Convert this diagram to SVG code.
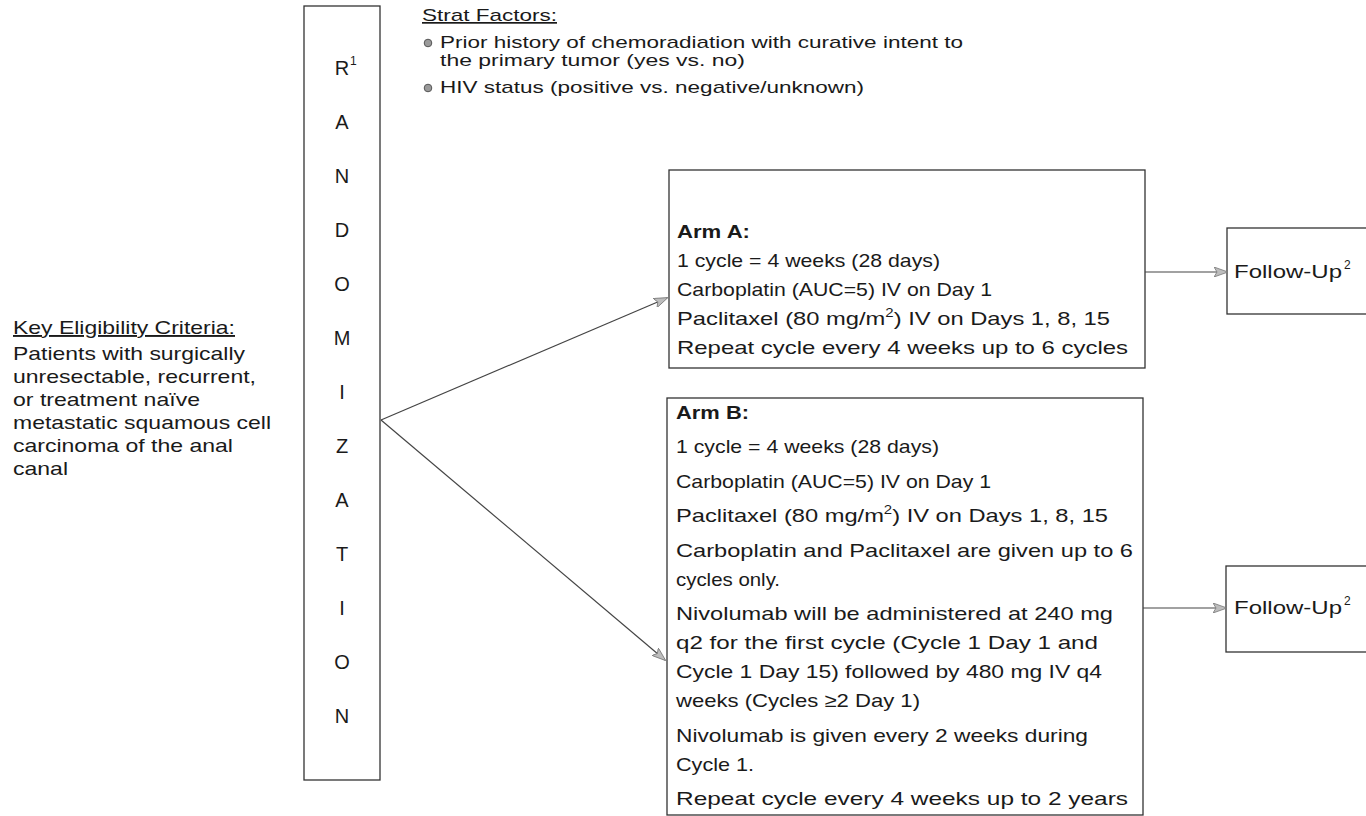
<svg xmlns="http://www.w3.org/2000/svg" width="1366" height="816" viewBox="0 0 1366 816">
<defs>
<style>
text{font-family:"Liberation Sans",Arial,sans-serif;fill:#1a1a1a}
.box{fill:none;stroke:#333;stroke-width:1.3}
.t{font-size:19px}
.b{font-size:19px;font-weight:bold}
.l{font-size:19px}
.s{font-size:17px}
.r{font-size:20px;text-anchor:middle}
.u{text-decoration:underline}
.sup{font-size:12px}
.con{stroke:#444;stroke-width:1.2;fill:none;marker-end:url(#ah)}
.dot{fill:#9a9a9a;stroke:#555;stroke-width:1}
</style>
<marker id="ah" viewBox="0 0 14 10" refX="13" refY="5" markerWidth="14" markerHeight="10" markerUnits="userSpaceOnUse" orient="auto">
<path d="M0,0 L14,5 L0,10 L3,5 Z" fill="#bdbdbd" stroke="#777" stroke-width="0.8"/>
</marker>
</defs>
<rect width="1366" height="816" fill="#fff"/>

<g id="eligibility">
<text class="l u" x="13" y="334" textLength="222" lengthAdjust="spacingAndGlyphs">Key Eligibility Criteria:</text>
<text class="l" x="13" y="360" textLength="232" lengthAdjust="spacingAndGlyphs">Patients with surgically</text>
<text class="l" x="13" y="383" textLength="243" lengthAdjust="spacingAndGlyphs">unresectable, recurrent,</text>
<text class="l" x="13" y="406" textLength="187" lengthAdjust="spacingAndGlyphs">or treatment naïve</text>
<text class="l" x="13" y="429" textLength="258" lengthAdjust="spacingAndGlyphs">metastatic squamous cell</text>
<text class="l" x="13" y="452" textLength="220" lengthAdjust="spacingAndGlyphs">carcinoma of the anal</text>
<text class="l" x="13" y="475" textLength="55" lengthAdjust="spacingAndGlyphs">canal</text>
</g>

<g id="randomization">
<rect class="box" x="304" y="6" width="76" height="774"/>
<text class="r" x="342" y="75">R</text>
<text class="sup" x="350" y="65">1</text>
<text class="r" x="342" y="129">A</text>
<text class="r" x="342" y="183">N</text>
<text class="r" x="342" y="237">D</text>
<text class="r" x="342" y="291">O</text>
<text class="r" x="342" y="345">M</text>
<text class="r" x="342" y="399">I</text>
<text class="r" x="342" y="453">Z</text>
<text class="r" x="342" y="507">A</text>
<text class="r" x="342" y="561">T</text>
<text class="r" x="342" y="615">I</text>
<text class="r" x="342" y="669">O</text>
<text class="r" x="342" y="723">N</text>
</g>

<g id="strat">
<text class="s u" x="422" y="21" textLength="135" lengthAdjust="spacingAndGlyphs">Strat Factors:</text>
<circle class="dot" cx="428" cy="43" r="3.8"/>
<text class="s" x="440" y="48" textLength="523" lengthAdjust="spacingAndGlyphs">Prior history of chemoradiation with curative intent to</text>
<text class="s" x="440" y="66" textLength="305" lengthAdjust="spacingAndGlyphs">the primary tumor (yes vs. no)</text>
<circle class="dot" cx="428" cy="88" r="3.8"/>
<text class="s" x="440" y="93" textLength="424" lengthAdjust="spacingAndGlyphs">HIV status (positive vs. negative/unknown)</text>
</g>

<g id="armA">
<rect class="box" x="669" y="170" width="476" height="198"/>
<text class="b" x="677" y="238" textLength="73" lengthAdjust="spacingAndGlyphs">Arm A:</text>
<text class="t" x="677" y="267" textLength="263" lengthAdjust="spacingAndGlyphs">1 cycle = 4 weeks (28 days)</text>
<text class="t" x="677" y="296" textLength="315" lengthAdjust="spacingAndGlyphs">Carboplatin (AUC=5) IV on Day 1</text>
<text class="t" x="677" y="325" textLength="433" lengthAdjust="spacingAndGlyphs">Paclitaxel (80 mg/m<tspan class="sup" dy="-8">2</tspan><tspan dy="8">) IV on Days 1, 8, 15</tspan></text>
<text class="t" x="677" y="354" textLength="451" lengthAdjust="spacingAndGlyphs">Repeat cycle every 4 weeks up to 6 cycles</text>
</g>

<g id="armB">
<rect class="box" x="667" y="398" width="476" height="417"/>
<text class="b" x="676" y="419" textLength="73" lengthAdjust="spacingAndGlyphs">Arm B:</text>
<text class="t" x="676" y="453" textLength="263" lengthAdjust="spacingAndGlyphs">1 cycle = 4 weeks (28 days)</text>
<text class="t" x="676" y="488" textLength="315" lengthAdjust="spacingAndGlyphs">Carboplatin (AUC=5) IV on Day 1</text>
<text class="t" x="676" y="522" textLength="432" lengthAdjust="spacingAndGlyphs">Paclitaxel (80 mg/m<tspan class="sup" dy="-8">2</tspan><tspan dy="8">) IV on Days 1, 8, 15</tspan></text>
<text class="t" x="676" y="557" textLength="457" lengthAdjust="spacingAndGlyphs">Carboplatin and Paclitaxel are given up to 6</text>
<text class="t" x="676" y="586" textLength="104" lengthAdjust="spacingAndGlyphs">cycles only.</text>
<text class="t" x="676" y="620" textLength="437" lengthAdjust="spacingAndGlyphs">Nivolumab will be administered at 240 mg</text>
<text class="t" x="676" y="649" textLength="422" lengthAdjust="spacingAndGlyphs">q2 for the first cycle (Cycle 1 Day 1 and</text>
<text class="t" x="676" y="678" textLength="426" lengthAdjust="spacingAndGlyphs">Cycle 1 Day 15) followed by 480 mg IV q4</text>
<text class="t" x="676" y="707" textLength="244" lengthAdjust="spacingAndGlyphs">weeks (Cycles ≥2 Day 1)</text>
<text class="t" x="676" y="742" textLength="412" lengthAdjust="spacingAndGlyphs">Nivolumab is given every 2 weeks during</text>
<text class="t" x="676" y="771" textLength="78" lengthAdjust="spacingAndGlyphs">Cycle 1.</text>
<text class="t" x="676" y="805" textLength="452" lengthAdjust="spacingAndGlyphs">Repeat cycle every 4 weeks up to 2 years</text>
</g>

<g id="followup1">
<rect class="box" x="1227" y="228" width="150" height="86"/>
<text class="t" x="1234" y="278" textLength="108" lengthAdjust="spacingAndGlyphs">Follow-Up</text>
<text class="sup" x="1344" y="269">2</text>
</g>

<g id="followup2">
<rect class="box" x="1226" y="566" width="150" height="86"/>
<text class="t" x="1234" y="614" textLength="108" lengthAdjust="spacingAndGlyphs">Follow-Up</text>
<text class="sup" x="1344" y="605">2</text>
</g>

<g id="connectors">
<line class="con" x1="381" y1="420" x2="667" y2="298"/>
<line class="con" x1="381" y1="420" x2="665" y2="660"/>
<line class="con" x1="1145" y1="272" x2="1227" y2="272"/>
<line class="con" x1="1143" y1="608" x2="1226" y2="608"/>
</g>
</svg>
